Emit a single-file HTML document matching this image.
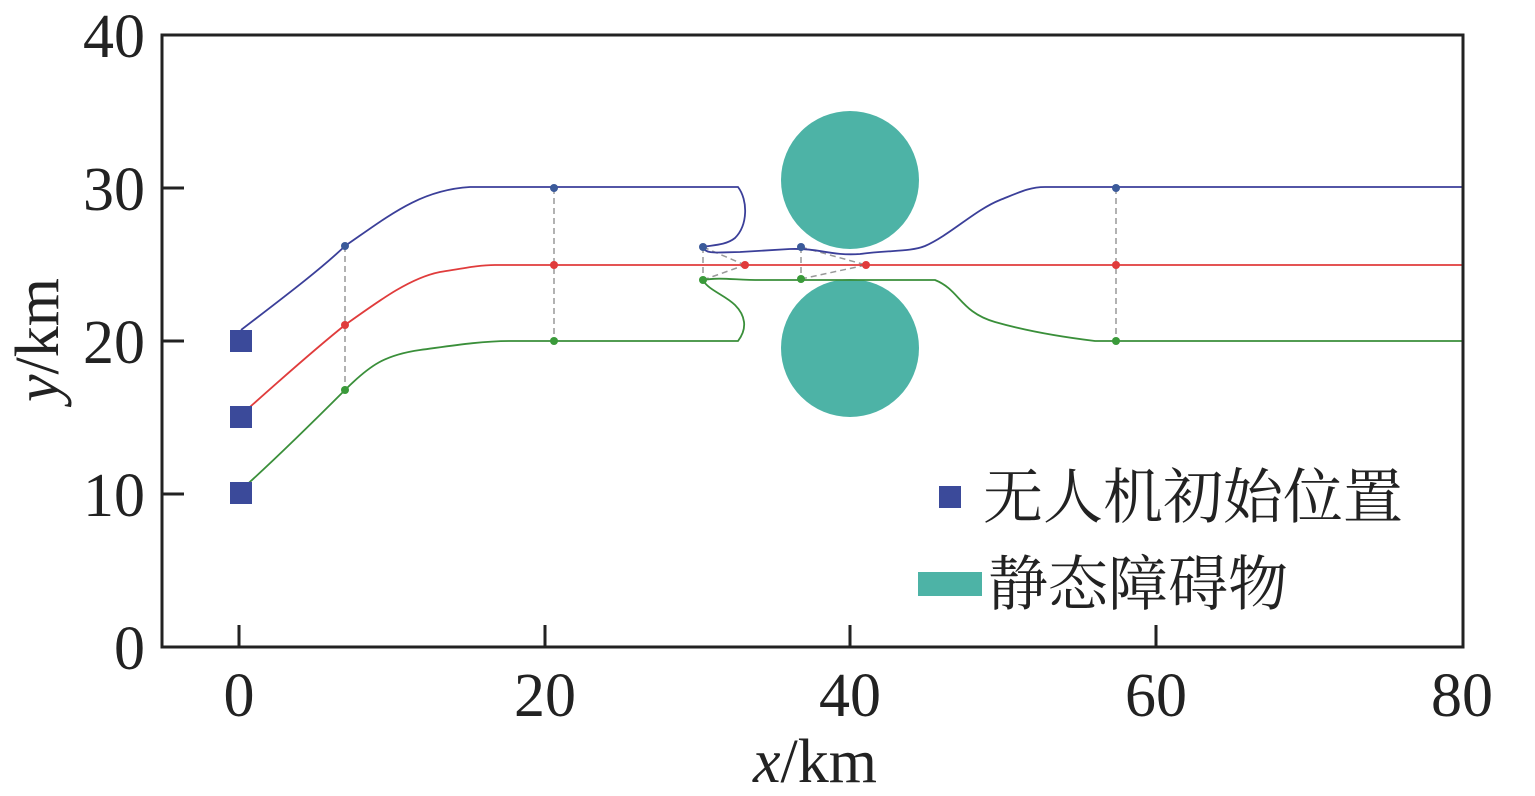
<!DOCTYPE html>
<html><head><meta charset="utf-8"><style>body{margin:0;background:#fff}</style></head><body>
<svg width="1535" height="791" xmlns="http://www.w3.org/2000/svg" font-family="Liberation Serif, serif">
<rect width="1535" height="791" fill="#fff"/>
<circle cx="850" cy="180" r="69" fill="#4db3a6"/>
<circle cx="850" cy="348" r="69" fill="#4db3a6"/>
<g stroke="#999" stroke-width="1.5" stroke-dasharray="6,4" fill="none">
<line x1="345" y1="246" x2="345" y2="390"/><line x1="554" y1="188" x2="554" y2="341"/>
<line x1="1116" y1="188" x2="1116" y2="341"/><line x1="703" y1="247" x2="703" y2="280"/>
<line x1="801" y1="247" x2="801" y2="279"/>
<line x1="703" y1="247" x2="745" y2="265"/><line x1="703" y1="280" x2="745" y2="265"/>
<line x1="801" y1="247" x2="866" y2="265"/><line x1="801" y1="279" x2="866" y2="265"/>
</g>
<g fill="none" stroke-width="1.8">
<path d="M241,330 C280,300 320,270 345,246 C390,215 420,190 470,187 L738,187 C748,200 748,225 735,238 C725,246 710,245 703,247 C705,255 720,252 740,252 L790,249 C820,248 830,256 860,254 C890,250 910,252 925,246 C950,235 975,210 1000,200 C1020,192 1030,187 1045,187 L1462,187" stroke="#3b3f99"/>
<path d="M241,415 C280,380 320,345 345,325 C380,300 410,278 440,272 C465,268 480,265 495,265 L1462,265" stroke="#e03c3c"/>
<path d="M241,490 C280,455 320,415 345,390 C370,365 385,355 420,350 C450,346 480,341 510,341 L738,341 C748,328 745,315 735,305 C725,295 708,290 703,280 C720,277 735,280 760,280 L935,280 C960,290 960,312 995,322 C1030,332 1070,338 1095,341 L1462,341" stroke="#3a8f3a"/>
</g>
<g>
<circle cx="345" cy="246" r="4" fill="#3b5a9a"/><circle cx="554" cy="188" r="4" fill="#3b5a9a"/><circle cx="703" cy="247" r="4" fill="#3b5a9a"/><circle cx="801" cy="247" r="4" fill="#3b5a9a"/><circle cx="1116" cy="188" r="4" fill="#3b5a9a"/>
<circle cx="345" cy="325" r="4" fill="#e03c3c"/><circle cx="554" cy="265" r="4" fill="#e03c3c"/><circle cx="745" cy="265" r="4" fill="#e03c3c"/><circle cx="866" cy="265" r="4" fill="#e03c3c"/><circle cx="1116" cy="265" r="4" fill="#e03c3c"/>
<circle cx="345" cy="390" r="4" fill="#3a9a3a"/><circle cx="554" cy="341" r="4" fill="#3a9a3a"/><circle cx="703" cy="280" r="4" fill="#3a9a3a"/><circle cx="801" cy="279" r="4" fill="#3a9a3a"/><circle cx="1116" cy="341" r="4" fill="#3a9a3a"/>
</g>
<g fill="#3b4a9a">
<rect x="230" y="330" width="22" height="22"/><rect x="230" y="406" width="22" height="22"/><rect x="230" y="482" width="22" height="22"/>
<rect x="939" y="486" width="22" height="22"/>
</g>
<rect x="918" y="572" width="64" height="24" fill="#4db3a6"/>
<rect x="162" y="35" width="1301" height="612" fill="none" stroke="#222" stroke-width="3"/>
<g stroke="#222" stroke-width="3">
<line x1="239" y1="647" x2="239" y2="625"/><line x1="545" y1="647" x2="545" y2="625"/><line x1="850" y1="647" x2="850" y2="625"/><line x1="1156" y1="647" x2="1156" y2="625"/>
<line x1="162" y1="188" x2="184" y2="188"/><line x1="162" y1="341" x2="184" y2="341"/><line x1="162" y1="494" x2="184" y2="494"/>
</g>
<g font-size="62" fill="#222" text-anchor="end">
<text x="145" y="57">40</text><text x="145" y="210">30</text><text x="145" y="363">20</text><text x="145" y="516">10</text><text x="145" y="669">0</text>
</g>
<g font-size="62" fill="#222" text-anchor="middle">
<text x="239" y="716">0</text><text x="545" y="716">20</text><text x="850" y="716">40</text><text x="1156" y="716">60</text><text x="1462" y="716">80</text>
<text x="815" y="782"><tspan font-style="italic">x</tspan>/km</text>
<text transform="translate(58,340) rotate(-90)"><tspan font-style="italic">y</tspan>/km</text>
</g>
<g font-size="60" fill="#222" font-family="Noto Serif CJK SC, Noto Sans CJK SC, serif">
<text x="983" y="518">无人机初始位置</text>
<text x="988" y="605">静态障碍物</text>
</g>
</svg>
</body></html>
